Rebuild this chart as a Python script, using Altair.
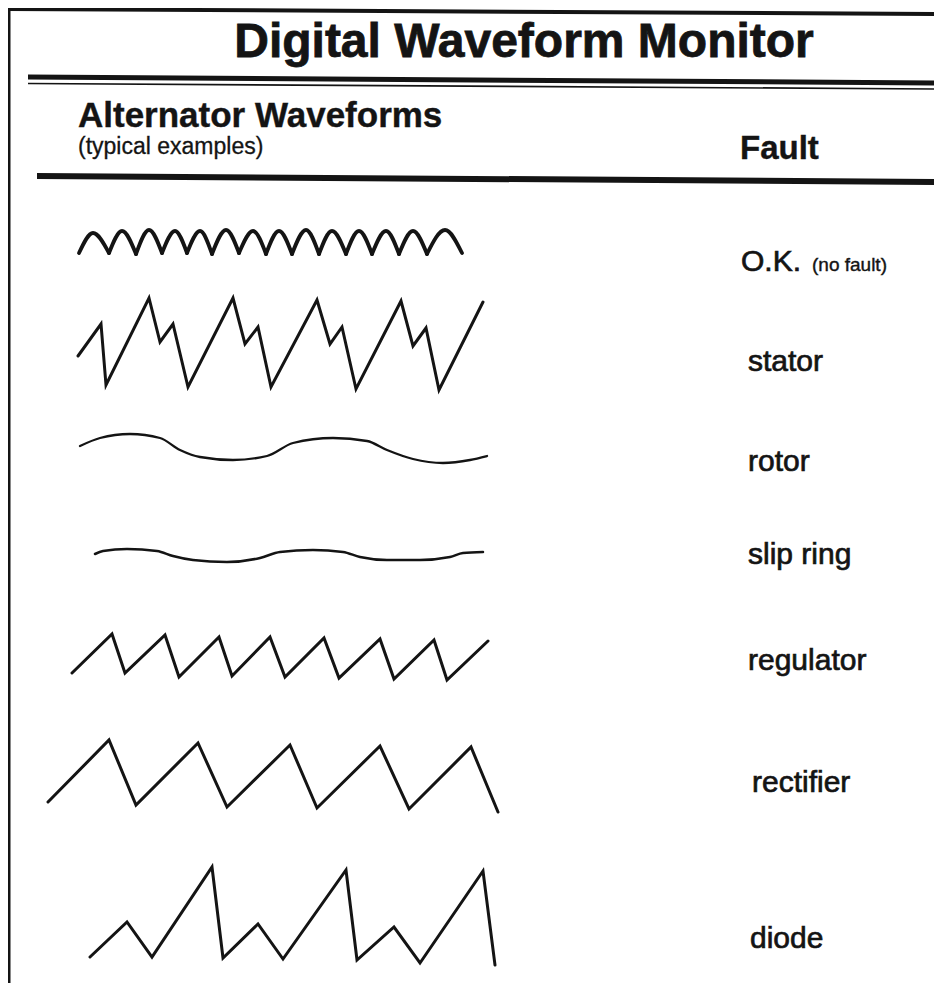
import altair as alt
import pandas as pd

# ---------------- text content ----------------
title_text = "Digital Waveform Monitor"
header_left = "Alternator Waveforms"
header_sub = "(typical examples)"
header_right = "Fault"
fault_labels = ["O.K.", "stator", "rotor", "slip ring", "regulator", "rectifier", "diode"]
ok_note = "(no fault)"

# ---------------- waveform samples ----------------
# t = time along the trace, v = signal level (up positive)

# O.K.: full-wave ripple, cusps (low) and crests (high)
ok_cusp_t = [0, 30, 57, 83, 108, 133, 160, 187, 213, 240, 267, 293, 320, 348, 383]
ok_cusp_v = [-11, -11, -12, -11, -11, -12, -11, -12, -12, -12, -12, -12, -12, -12, -11]
ok_crest_t = [14, 43, 70, 96, 121, 147, 174, 200, 227, 253, 280, 307, 334, 366]
ok_crest_v = [9, 11, 12, 11, 11, 12, 11, 11, 12, 11, 11, 11, 11, 12]

stator_t = [0, 23, 28, 71, 82, 95, 110, 155, 167, 180, 193, 239, 252, 264, 278, 323, 335, 348, 361, 405]
stator_v = [-12, 20, -41, 46, 2, 20, -43, 46, 0, 17, -43, 44, 0, 17, -45, 43, -2, 16, -46, 42]

rotor_t = [0, 20, 50, 80, 100, 120, 153, 187, 213, 253, 287, 307, 333, 363, 390, 407]
rotor_v = [2, 10, 14, 10, -2, -9, -12, -8, 5, 10, 7, -2, -11, -15, -12, -8]

slip_t = [0, 8, 32, 62, 78, 98, 132, 165, 185, 218, 248, 265, 292, 325, 355, 368, 388]
slip_v = [1, 4, 6, 4, -1, -5, -7, -3, 3, 5, 3, -2, -5, -5, -2, 2, 3]

regulator_t = [0, 40, 53, 93, 107, 147, 160, 198, 213, 252, 267, 308, 322, 362, 375, 416]
regulator_v = [-16, 23, -16, 22, -20, 20, -19, 20, -20, 19, -21, 18, -22, 17, -23, 16]

rectifier_t = [0, 61, 88, 150, 179, 242, 269, 332, 361, 423, 450]
rectifier_v = [-26, 36, -29, 33, -31, 31, -32, 30, -33, 29, -36]

diode_t = [0, 37, 62, 122, 133, 168, 193, 256, 267, 304, 330, 393, 405]
diode_v = [-41, -6, -41, 49, -42, -8, -43, 46, -44, -11, -47, 45, -49]

# ---------------- layout (page units) ----------------
W, H = 926, 975
xs = alt.Scale(domain=[8, 934], nice=False, zero=False)
ys = alt.Scale(domain=[8, 983], nice=False, zero=False, reverse=True)
INK = "#141414"

# row placement: (trace start x, trace centre y, label x, label baseline y, stroke width)
rows = {
    "O.K.":      (79, 242, 741, 271, 3.8),
    "stator":    (78, 344, 748, 371, 3.0),
    "rotor":     (80, 448, 748, 471, 2.3),
    "slip ring": (95, 555, 748, 564, 2.5),
    "regulator": (72, 657, 748, 670, 3.0),
    "rectifier": (48, 776, 752, 792, 3.0),
    "diode":     (90, 916, 750, 948, 3.0),
}

def xenc(f="x"):
    return alt.X(f"{f}:Q", scale=xs, axis=None)

def yenc(f="y"):
    return alt.Y(f"{f}:Q", scale=ys, axis=None)

layers = []

# frame and separator lines
frame = pd.DataFrame([
    dict(x=8, y=9, x2=942, y2=14, w=4),        # top border
    dict(x=9, y=8, x2=9, y2=986, w=3),         # left border
    dict(x=8, y=985, x2=942, y2=985, w=3),     # bottom border
    dict(x=28, y=77, x2=942, y2=83, w=5),      # under title (thick)
    dict(x=28, y=83.5, x2=942, y2=89, w=1.6),  # under title (thin)
    dict(x=37, y=176, x2=942, y2=182, w=6),    # under header
])
layers.append(
    alt.Chart(frame).mark_rule(color=INK, strokeCap="butt").encode(
        x=xenc("x"), y=yenc("y"), x2="x2:Q", y2="y2:Q",
        strokeWidth=alt.StrokeWidth("w:Q", scale=None),
    )
)

# waveforms
def place(name, t, v, seg=None):
    x0, yc, _, _, _ = rows[name]
    df = pd.DataFrame({"t": t, "v": v})
    df["x"] = x0 + df["t"]
    df["y"] = yc - df["v"]
    df["seg"] = 0 if seg is None else seg
    df["o"] = range(len(df))
    return df

# O.K. trace: each crest drawn as its own smooth arch between two cusps
ok_rows = []
for i in range(len(ok_crest_t)):
    ok_rows.append((ok_cusp_t[i], ok_cusp_v[i], i))
    ok_rows.append((ok_crest_t[i], ok_crest_v[i], i))
    ok_rows.append((ok_cusp_t[i + 1], ok_cusp_v[i + 1], i))
ok_df = place("O.K.", [r[0] for r in ok_rows], [r[1] for r in ok_rows], [r[2] for r in ok_rows])
layers.append(
    alt.Chart(ok_df).mark_line(color=INK, strokeWidth=rows["O.K."][4], interpolate="monotone",
                               strokeCap="round").encode(
        x=xenc(), y=yenc(), detail="seg:N", order="o:Q"
    )
)

for name, t, v, interp in [
    ("stator", stator_t, stator_v, "linear"),
    ("rotor", rotor_t, rotor_v, "monotone"),
    ("slip ring", slip_t, slip_v, "monotone"),
    ("regulator", regulator_t, regulator_v, "linear"),
    ("rectifier", rectifier_t, rectifier_v, "linear"),
    ("diode", diode_t, diode_v, "linear"),
]:
    df = place(name, t, v)
    layers.append(
        alt.Chart(df).mark_line(color=INK, strokeWidth=rows[name][4], interpolate=interp,
                                strokeCap="round", strokeJoin="miter").encode(
            x=xenc(), y=yenc(), order="o:Q"
        )
    )

# texts
FONT = "Liberation Sans"
def text_layer(items, size, weight="normal", align="left", thick=0.0):
    df = pd.DataFrame(items, columns=["label", "x", "y"])
    kw = dict(font=FONT, fontSize=size, fontWeight=weight, align=align,
              baseline="alphabetic", color=INK)
    if thick > 0:
        kw.update(stroke=INK, strokeWidth=thick)
    return alt.Chart(df).mark_text(**kw).encode(x=xenc(), y=yenc(), text="label:N")

layers.append(text_layer([(title_text, 524, 57)], 48, "bold", "center", 0.8))
layers.append(text_layer([(header_left, 78, 127)], 35, "bold", "left", 0.4))
layers.append(text_layer([(header_sub, 78, 154)], 23, "normal", "left", 0.3))
layers.append(text_layer([(header_right, 740, 159)], 33, "bold", "left", 0.4))
layers.append(text_layer([(lab, rows[lab][2], rows[lab][3]) for lab in fault_labels], 30, "normal", "left", 0.7))
layers.append(text_layer([(ok_note, 812, rows["O.K."][3])], 19, "normal", "left", 0.4))

chart = alt.layer(*layers).properties(
    width=W, height=H, padding=0, autosize=alt.AutoSizeParams(type="none"),
    background="white",
).configure_view(stroke=None)

chart.save("out.html", embed_options={"renderer": "svg", "actions": False})
